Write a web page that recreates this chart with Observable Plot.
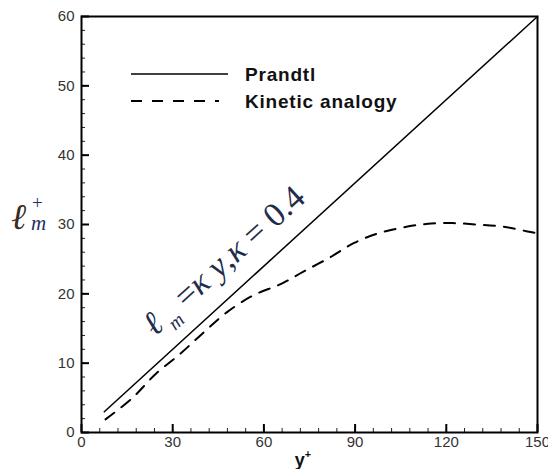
<!DOCTYPE html>
<html>
<head>
<meta charset="utf-8">
<script src="https://cdn.jsdelivr.net/npm/d3@7"></script>
<script src="https://cdn.jsdelivr.net/npm/@observablehq/plot@0.6"></script>
<style>
  html, body { margin: 0; padding: 0; background: white; }
  #chart svg { display: block; }
</style>
</head>
<body>
<div id="chart"></div>
<script>
// ---- data ----
const seriesNames = ["Prandtl", "Kinetic analogy"];
const prandtlY = [7.5, 150];
const prandtlL = [3.0, 60];
const kineticY = [7.9, 16.8, 24.3, 32.6, 40.1, 48.0, 56.6, 65.5, 73.0, 81.9, 89.5, 97.4, 106, 114, 122, 130, 138.5, 146.7, 150];
const kineticL = [1.9, 5.0, 8.4, 11.4, 14.4, 17.4, 19.8, 21.4, 23.2, 25.3, 27.3, 28.7, 29.6, 30.1, 30.2, 30.0, 29.7, 29.0, 28.7];
const xTicks = [0, 30, 60, 90, 120, 150];
const xMinor = d3.range(0, 151, 6);
const yTicks = [0, 10, 20, 30, 40, 50, 60];
const yMinor = d3.range(0, 61, 2);
const annotation = [{y: 46.8, l: 24.8, text: "lm = ky, k = 0.4"}];

const prandtl = prandtlY.map((y, i) => ({y, l: prandtlL[i]}));
const kinetic = kineticY.map((y, i) => ({y, l: kineticL[i]}));

const W = 548, H = 469;
const mL = 81, mR = 11, mT = 16, mB = 37;
const innerW = W - mL - mR, innerH = H - mT - mB;

const chart = Plot.plot({
  width: W, height: H,
  marginLeft: mL, marginRight: mR, marginTop: mT, marginBottom: mB,
  x: {domain: [0, 150]},
  y: {domain: [0, 60]},
  style: {fontFamily: "'Liberation Sans', Arial, sans-serif", fontSize: "15px", color: "#222", background: "white", overflow: "visible"},
  marks: [
    Plot.ruleX(xMinor, {insetTop: innerH - 4, stroke: "#222", strokeWidth: 1}),
    Plot.ruleX(xTicks, {insetTop: innerH - 8, stroke: "black", strokeWidth: 2}),
    Plot.axisX(xTicks, {tickSize: 0, tickPadding: 4, label: null, fill: "#333"}),
    Plot.ruleY(yMinor, {insetRight: innerW - 4, stroke: "#222", strokeWidth: 1}),
    Plot.ruleY(yTicks, {insetRight: innerW - 8, stroke: "black", strokeWidth: 2}),
    Plot.axisY(yTicks, {tickSize: 0, tickPadding: 7, label: null, fill: "#333"}),
    Plot.line(prandtl, {x: "y", y: "l", stroke: "black", strokeWidth: 1.5}),
    Plot.line(kinetic, {x: "y", y: "l", curve: "catmull-rom", stroke: "black", strokeWidth: 2, strokeDasharray: "11,9"}),
    Plot.text(annotation, {x: "y", y: "l", text: "text", rotate: -42, fontSize: 34, fill: "#1f2d4d", fontFamily: "'Liberation Serif', 'DejaVu Serif', serif", className: "annot"}),
    Plot.frame({stroke: "black", strokeWidth: 2})
  ]
});
document.getElementById("chart").appendChild(chart);

const svg = d3.select(chart);

// annotation with sub-script
const at = svg.select(".annot text");
at.text(null);
at.append("tspan").attr("font-style", "italic").text("ℓ");
at.append("tspan").attr("font-style", "italic").attr("font-size", "58%").attr("dy", 9).text(" m");
at.append("tspan").attr("dy", -9).text(" =");
at.append("tspan").attr("font-style", "italic").text("κ y");
at.append("tspan").text(",");
at.append("tspan").attr("font-style", "italic").text("κ");
at.append("tspan").text(" = 0.4");

// legend
const lg = svg.append("g").attr("text-anchor", "start");
const legendRows = [{y: 74, dash: null}, {y: 101, dash: "11,10"}];
legendRows.forEach((r, i) => {
  lg.append("line").attr("x1", 131).attr("x2", i === 0 ? 228 : 219).attr("y1", r.y).attr("y2", r.y)
    .attr("stroke", "black").attr("stroke-width", i === 0 ? 1.5 : 2).attr("stroke-dasharray", r.dash);
  lg.append("text").attr("x", 245).attr("y", r.y).attr("dy", "0.35em")
    .attr("font-family", "'Liberation Sans', Arial, sans-serif").attr("font-weight", "bold")
    .attr("font-size", 19).attr("letter-spacing", 0.8).attr("fill", "#111").text(seriesNames[i]);
});

// x axis label y+
const xl = svg.append("text").attr("x", 303).attr("y", 466)
  .attr("text-anchor", "middle").attr("font-family", "'Liberation Sans', Arial, sans-serif")
  .attr("font-weight", "bold").attr("font-size", 18).attr("fill", "#111");
xl.append("tspan").text("y");
xl.append("tspan").attr("font-size", "60%").attr("dy", -8).text("+");

// y axis label l+m
const yl = svg.append("g").attr("text-anchor", "start").attr("font-family", "'Liberation Serif', 'DejaVu Serif', serif");
yl.append("text").attr("x", 11).attr("y", 229).attr("font-size", 36).attr("font-style", "italic").attr("fill", "#3a2a20").text("ℓ");
yl.append("text").attr("x", 32).attr("y", 209).attr("font-size", 19).attr("fill", "#1f3060").text("+");
yl.append("text").attr("x", 31).attr("y", 230).attr("font-size", 21).attr("font-style", "italic").attr("fill", "#1f3060").text("m");
</script>
</body>
</html>
